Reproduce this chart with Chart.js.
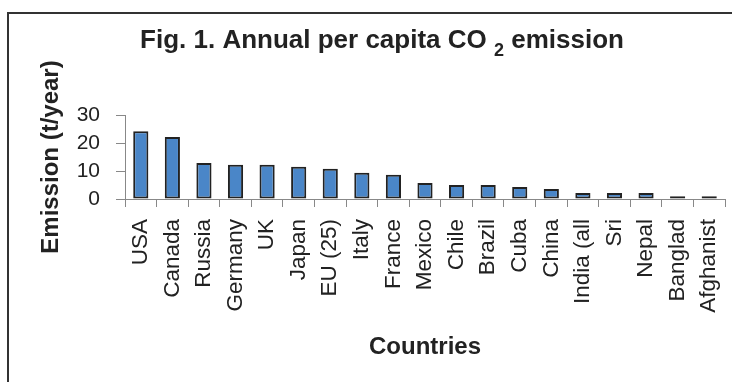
<!DOCTYPE html>
<html>
<head>
<meta charset="utf-8">
<script src="https://cdn.jsdelivr.net/npm/chart.js@4"></script>
<style>
  html, body { margin: 0; padding: 0; background: #fff; }
  #wrap { position: relative; width: 732px; height: 382px; overflow: hidden; }
  #frame { position: absolute; left: 7px; top: 12px; width: 800px; height: 500px; border: 2px solid #333; }
  canvas { position: absolute; left: 0; top: 0; }
</style>
</head>
<body>
<div id="wrap">
  <div id="frame"></div>
  <canvas id="chart" width="732" height="382"></canvas>
</div>
<script>
// 국가 / 1인당 배출량 (t/year)
const countries = ["USA", "Canada", "Russia", "Germany", "UK", "Japan", "EU (25)", "Italy", "France", "Mexico",
  "Chile", "Brazil", "Cuba", "China", "India (all", "Sri", "Nepal", "Banglad", "Afghanist"];
const emission = [24.2, 22.1, 12.9, 12.2, 12.2, 11.5, 10.8, 9.4, 8.7, 5.7,
  5.0, 5.0, 4.3, 3.6, 2.1, 2.1, 2.1, 1.0, 1.0];
const yTicks = [0, 10, 20, 30];

const FONT = "'Liberation Sans', Arial, sans-serif";

// 제목 (CO2 아래첨자 포함)
const titlePlugin = {
  id: "subTitle",
  afterDraw(chart) {
    const ctx = chart.ctx;
    const big = "bold 26px " + FONT;
    const small = "bold 18px " + FONT;
    const parts = [
      { text: "Fig. 1. Annual per capita CO ", font: big, dy: 0 },
      { text: "2", font: small, dy: 8 },
      { text: " emission", font: big, dy: 0 },
    ];
    let total = 0;
    for (const p of parts) {
      ctx.font = p.font;
      p.w = ctx.measureText(p.text).width;
      total += p.w;
    }
    let x = 382 - total / 2;
    const baseY = 48;
    ctx.save();
    ctx.fillStyle = "#222";
    ctx.textBaseline = "alphabetic";
    ctx.textAlign = "left";
    for (const p of parts) {
      ctx.font = p.font;
      ctx.fillText(p.text, x, baseY + p.dy);
      x += p.w;
    }
    ctx.restore();
  },
};

new Chart(document.getElementById("chart").getContext("2d"), {
  type: "bar",
  data: {
    labels: countries,
    datasets: [
      {
        data: emission,
        backgroundColor: "#4a86c8",
        borderColor: "#222",
        borderWidth: 2,
        borderSkipped: false,
        categoryPercentage: 1,
        barPercentage: 0.48,
      },
    ],
  },
  options: {
    responsive: false,
    animation: false,
    layout: { padding: { top: 115, right: 7, left: 0, bottom: 0 } },
    plugins: { legend: { display: false }, tooltip: { enabled: false } },
    scales: {
      x: {
        offset: true,
        afterFit(scale) {
          scale.height = 183;
          scale.paddingLeft = 0;
          scale.paddingRight = 0;
        },
        grid: { offset: true, drawOnChartArea: false, drawTicks: true, tickLength: 8, color: "#888" },
        border: { color: "#888", width: 1 },
        ticks: {
          minRotation: 90,
          maxRotation: 90,
          autoSkip: false,
          padding: 12,
          color: "#222",
          font: { family: FONT, size: 22.5 },
        },
        title: {
          display: true,
          text: "Countries",
          color: "#222",
          font: { family: FONT, size: 24, weight: "bold", lineHeight: 1.2 },
          padding: { top: 0, bottom: 20 },
        },
      },
      y: {
        min: 0,
        max: 30,
        afterFit(scale) { scale.width = 125; },
        afterBuildTicks(scale) { scale.ticks = yTicks.map((v) => ({ value: v })); },
        grid: { drawOnChartArea: false, drawTicks: true, tickLength: 9, color: "#888" },
        border: { color: "#888", width: 1 },
        ticks: {
          autoSkip: false,
          padding: 16,
          color: "#222",
          font: { family: FONT, size: 21 },
        },
        title: {
          display: true,
          text: "Emission (t/year)",
          color: "#222",
          font: { family: FONT, size: 24, weight: "bold", lineHeight: 1.2 },
          padding: { top: 36.6, bottom: 0 },
        },
      },
    },
  },
  plugins: [titlePlugin],
});
</script>
</body>
</html>
